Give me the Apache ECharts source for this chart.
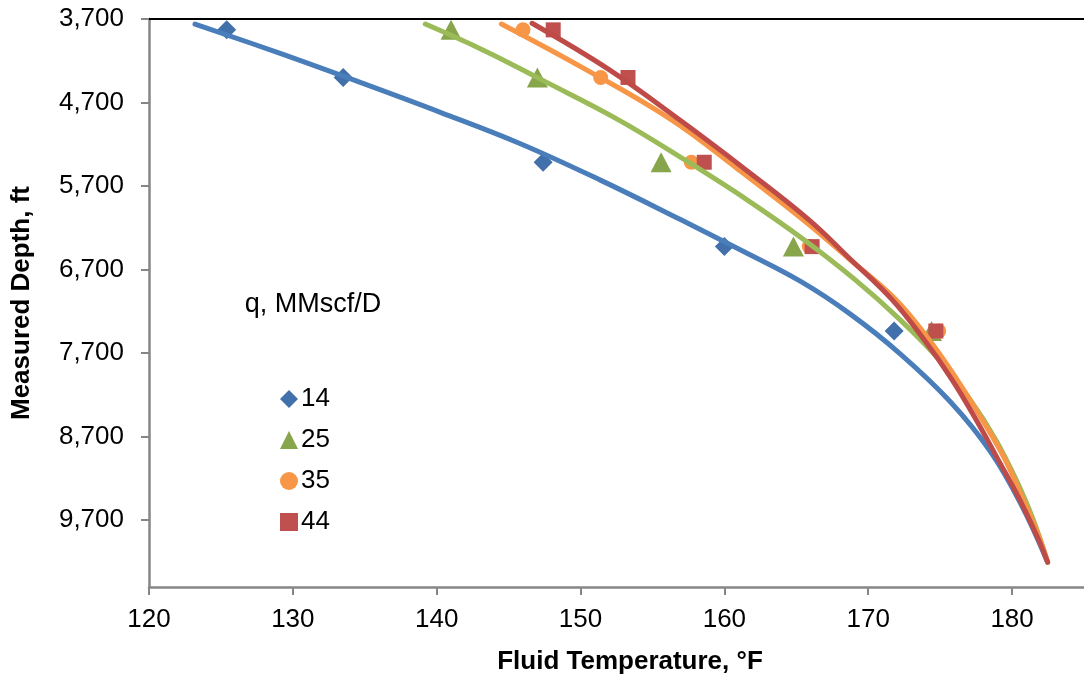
<!DOCTYPE html>
<html>
<head>
<meta charset="utf-8">
<script src="https://cdn.jsdelivr.net/npm/echarts@6/dist/echarts.min.js"></script>
<style>
html,body{margin:0;padding:0;background:#fff;}
#chart{width:1084px;height:679px;}
</style>
</head>
<body>
<div id="chart"></div>
<script>
// ---- data ----
var seriesNames = ['14', '25', '35', '44'];
var markerDepths = [3830, 4400, 5415, 6425, 7435];
var temp14 = [125.4, 133.5, 147.4, 160.0, 171.8];
var temp25 = [141.0, 147.0, 155.6, 164.8, 174.4];
var temp35 = [146.0, 151.4, 157.7, 165.9, 174.9];
var temp44 = [148.1, 153.3, 158.6, 166.1, 174.7];

// trendlines
var trendDepth14 = [3760, 4112, 4459, 4817, 5193, 5629, 6101, 6466, 6842, 7236, 7714, 8288, 8885, 9506, 10203];
var trendTemp14  = [123.2, 129.12, 134.68, 140.25, 145.82, 151.38, 156.95, 161.13, 165.3, 168.78, 172.26, 175.74, 178.52, 180.61, 182.47];
var trendDepth25 = [3760, 4070, 4429, 4907, 5385, 5862, 6340, 6818, 7296, 7774, 8252, 8730, 9208, 9686, 10203];
var trendTemp25  = [139.21, 143.21, 147.31, 152.64, 157.23, 161.55, 165.51, 169.06, 172.19, 174.91, 177.06, 178.84, 180.26, 181.45, 182.47];
var trendDepth35 = [3760, 4309, 4907, 5504, 6101, 6579, 7057, 7535, 8013, 8491, 8969, 9447, 9925, 10203];
var trendTemp35  = [144.5, 150.41, 156.33, 160.99, 165.45, 168.72, 171.91, 174.21, 176.16, 177.9, 179.5, 180.75, 181.93, 182.47];
var trendDepth44 = [3751, 4309, 4907, 5504, 6101, 6579, 7057, 7535, 8013, 8491, 8969, 9447, 9925, 10203];
var trendTemp44  = [146.63, 152.01, 156.88, 161.48, 165.86, 168.78, 171.64, 173.86, 175.81, 177.48, 179.01, 180.51, 181.82, 182.47];

var xTicks = [120, 130, 140, 150, 160, 170, 180];
var yTicks = [3700, 4700, 5700, 6700, 7700, 8700, 9700];

// ---- build ----
function pairs(xs, ys) { return xs.map(function (x, i) { return [x, ys[i]]; }); }

var markerTemps = [temp14, temp25, temp35, temp44];
var trendT = [trendTemp14, trendTemp25, trendTemp35, trendTemp44];
var trendD = [trendDepth14, trendDepth25, trendDepth35, trendDepth44];
var lineColors = ['#4A7EBB', '#9BBB59', '#F79646', '#BE4B48'];
var markerColors = ['#4170AA', '#87A54B', '#F79646', '#C0504D'];
var symbols = ['diamond', 'triangle', 'circle', 'rect'];
var symbolSizes = [19, [21, 20], 15, 15];

var series = [];
for (var i = 0; i < 4; i++) {
  series.push({
    name: seriesNames[i],
    type: 'scatter',
    symbol: symbols[i],
    symbolSize: symbolSizes[i],
    itemStyle: { color: markerColors[i], opacity: 1 },
    data: pairs(markerTemps[i], markerDepths),
    z: 2,
    silent: true
  });
}
for (var j = 0; j < 4; j++) {
  series.push({
    name: 'trend ' + seriesNames[j],
    type: 'line',
    smooth: 0.4,
    showSymbol: false,
    symbol: 'none',
    lineStyle: { color: lineColors[j], width: 5, cap: 'round', join: 'round' },
    data: pairs(trendT[j], trendD[j]),
    z: 3 + j,
    silent: true
  });
}

var FONT = '"Liberation Sans", Arial, Helvetica, sans-serif';
var chart = echarts.init(document.getElementById('chart'), null, { renderer: 'canvas' });
chart.setOption({
  animation: false,
  backgroundColor: '#ffffff',
  grid: { left: 149, right: 0, top: 19, bottom: 92, containLabel: false },
  xAxis: [{
    type: 'value', min: 120, max: 185, position: 'bottom',
    axisLine: { onZero: false, lineStyle: { color: '#868686', width: 2.5 } },
    axisTick: { show: true, inside: false, length: 8, customValues: xTicks, lineStyle: { color: '#868686', width: 2 } },
    axisLabel: { customValues: xTicks, margin: 20, color: '#000', fontSize: 26, fontFamily: FONT },
    splitLine: { show: false }
  }, {
    type: 'value', min: 120, max: 185, position: 'top',
    axisLine: { onZero: false, lineStyle: { color: '#000', width: 2 } },
    axisTick: { show: false }, axisLabel: { show: false }, splitLine: { show: false }
  }],
  yAxis: {
    type: 'value', min: 3700, max: 10500, inverse: true,
    axisLine: { onZero: false, lineStyle: { color: '#868686', width: 2.5 } },
    axisTick: { show: true, inside: false, length: 8, customValues: yTicks, lineStyle: { color: '#868686', width: 2 } },
    axisLabel: {
      customValues: yTicks, margin: 25, color: '#000', fontSize: 26, fontFamily: FONT,
      formatter: function (v) { return Number(v).toLocaleString('en-US'); }
    },
    splitLine: { show: false }
  },
  legend: {
    data: seriesNames,
    orient: 'vertical',
    left: 280, top: 386, padding: 0,
    itemWidth: 18, itemHeight: 18, itemGap: 15,
    textStyle: { color: '#000', fontSize: 26, fontFamily: FONT, lineHeight: 26, padding: [0, 0, 0, -2] },
    selectedMode: false
  },
  graphic: [
    { type: 'text', x: 313, y: 305, silent: true,
      style: { text: 'q, MMscf/D', font: '27px ' + FONT, fill: '#000', textAlign: 'center', textVerticalAlign: 'middle' } },
    { type: 'text', x: 630, y: 662, silent: true,
      style: { text: 'Fluid Temperature, °F', font: 'bold 26px ' + FONT, fill: '#000', textAlign: 'center', textVerticalAlign: 'middle' } },
    { type: 'text', x: 22, y: 303, rotation: Math.PI / 2, silent: true,
      style: { text: 'Measured Depth, ft', font: 'bold 26px ' + FONT, fill: '#000', textAlign: 'center', textVerticalAlign: 'middle' } }
  ],
  series: series
});
</script>
</body>
</html>
